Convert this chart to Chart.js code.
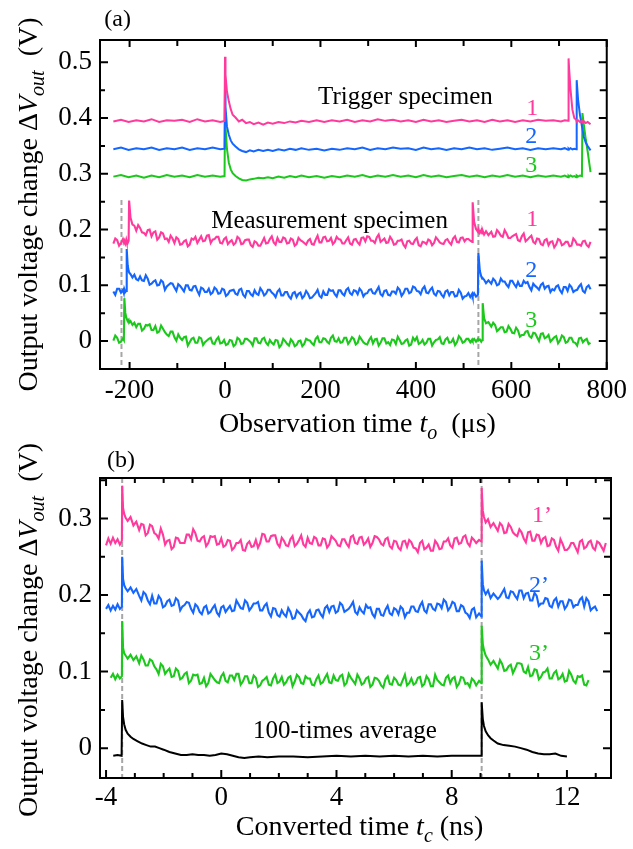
<!DOCTYPE html>
<html><head><meta charset="utf-8">
<script src="https://cdn.jsdelivr.net/npm/chart.js@4.4.1/dist/chart.umd.min.js"></script>
<style>
html,body{margin:0;padding:0;background:#fff;}
#wrap{position:relative;width:633px;height:849px;background:#fff;overflow:hidden;}
canvas{position:absolute;left:0;}
#ca{top:0;width:633px;height:450px;}
#cb{top:430px;width:633px;height:419px;}
</style></head>
<body><div id="wrap"><canvas id="ca" width="633" height="450"></canvas><canvas id="cb" width="633" height="419"></canvas></div>
<script>
// ---------------- Panel (a): observation time (µs) ----------------
const tTrig = [
 -234,-218,-202,-186,-170,-154,-138,-122,-106,-90,
 -74,-58,-42,-26,-10,-1,0,1,4,8,
 12,16,22,29,36,44,52,60,70,80,
 90,100,112,124,136,148,160,176,192,208,
 224,240,256,272,288,304,320,336,352,368,
 384,400,416,432,448,464,480,496,512,528,
 544,560,576,592,608,624,640,656,672,688,
 704,712,719,720,721,724,728,732,736,737,
 740,744,748,749,752,756,760,766];
const trig1 = [
 0.394,0.397,0.393,0.396,0.394,0.398,0.393,0.396,0.395,0.397,
 0.393,0.398,0.394,0.396,0.393,0.395,0.510,0.478,0.448,0.430,
 0.416,0.406,0.401,0.394,0.397,0.391,0.393,0.389,0.392,0.388,
 0.392,0.390,0.393,0.391,0.394,0.392,0.395,0.393,0.396,0.393,
 0.396,0.394,0.397,0.393,0.396,0.394,0.398,0.395,0.397,0.394,
 0.396,0.393,0.397,0.394,0.396,0.393,0.395,0.397,0.394,0.396,
 0.393,0.397,0.394,0.396,0.393,0.396,0.394,0.397,0.395,0.396,
 0.394,0.396,0.395,0.507,0.490,0.452,0.415,0.400,0.397,0.395,
 0.396,0.393,0.395,0.392,0.394,0.391,0.393,0.389];
const trig2 = [
 0.344,0.347,0.343,0.346,0.344,0.347,0.343,0.346,0.344,0.347,
 0.343,0.346,0.344,0.347,0.344,0.345,0.465,0.420,0.385,0.370,
 0.360,0.354,0.349,0.344,0.341,0.339,0.342,0.340,0.343,0.341,
 0.343,0.341,0.344,0.342,0.345,0.343,0.346,0.343,0.345,0.342,
 0.345,0.343,0.346,0.344,0.347,0.343,0.346,0.344,0.347,0.345,
 0.346,0.343,0.347,0.344,0.346,0.343,0.346,0.344,0.347,0.344,
 0.346,0.343,0.345,0.347,0.344,0.346,0.343,0.346,0.344,0.346,
 0.344,0.346,0.343,0.345,0.344,0.346,0.344,0.345,0.344,0.468,
 0.432,0.405,0.385,0.381,0.366,0.356,0.350,0.342];
const trig3 = [
 0.295,0.298,0.294,0.297,0.293,0.297,0.294,0.298,0.295,0.297,
 0.294,0.298,0.295,0.297,0.295,0.296,0.410,0.385,0.345,0.320,
 0.308,0.301,0.296,0.292,0.289,0.288,0.290,0.291,0.293,0.292,
 0.294,0.292,0.295,0.293,0.296,0.294,0.297,0.294,0.296,0.293,
 0.296,0.294,0.297,0.295,0.298,0.294,0.297,0.295,0.298,0.295,
 0.297,0.294,0.298,0.295,0.297,0.294,0.296,0.298,0.295,0.297,
 0.294,0.297,0.295,0.298,0.295,0.297,0.294,0.297,0.295,0.297,
 0.295,0.297,0.294,0.296,0.295,0.297,0.295,0.296,0.294,0.297,
 0.295,0.297,0.296,0.409,0.388,0.362,0.340,0.303];

// measurement specimen: main samples
const tMeas = [
 -234,-226,-218,-214,-212,-211,-209,-207,-206,-204,-202,-201,
 -198,-194,-190,-186,-178,-170,-162,-154,-146,-138,-130,-122,
 -114,-106,-98,-90,-82,-74,-66,-58,-50,-42,-34,-26,
 -18,-10,-2,6,14,22,30,38,46,54,62,70,
 78,86,94,102,110,118,126,134,142,150,158,166,
 174,182,190,198,206,214,222,230,238,246,254,262,
 270,278,286,294,302,310,318,326,334,342,350,358,
 366,374,382,390,398,406,414,422,430,438,446,454,
 462,470,478,486,494,502,510,514,518,519,522,526,
 530,531,534,537,539,540,543,547,552,558,566,574,
 582,590,598,606,614,622,630,638,646,654,662,670,
 678,686,694,702,710,718,726,734,742,750,758,766];
const meas1 = [
 0.175,0.181,0.176,0.183,0.177,0.180,0.175,0.182,0.178,0.176,0.180,0.252,
 0.221,0.209,0.207,0.198,0.203,0.194,0.199,0.188,0.197,0.186,0.193,0.184,
 0.189,0.176,0.183,0.174,0.181,0.173,0.182,0.176,0.188,0.180,0.190,0.182,
 0.187,0.176,0.183,0.174,0.181,0.176,0.184,0.175,0.182,0.172,0.179,0.171,
 0.178,0.175,0.183,0.177,0.185,0.178,0.184,0.176,0.182,0.174,0.181,0.176,
 0.180,0.174,0.182,0.177,0.186,0.179,0.185,0.178,0.183,0.175,0.181,0.175,
 0.182,0.177,0.185,0.179,0.187,0.180,0.186,0.178,0.184,0.177,0.182,0.174,
 0.180,0.173,0.179,0.175,0.181,0.172,0.178,0.174,0.180,0.176,0.182,0.175,
 0.181,0.177,0.184,0.178,0.185,0.179,0.183,0.180,0.178,0.249,0.214,0.201,
 0.196,0.201,0.194,0.199,0.193,0.198,0.191,0.197,0.190,0.196,0.188,0.195,
 0.187,0.193,0.185,0.190,0.181,0.188,0.179,0.186,0.178,0.184,0.174,0.181,
 0.172,0.179,0.173,0.181,0.174,0.178,0.171,0.180,0.173,0.179,0.172,0.178];
const meas2 = [
 0.089,0.094,0.087,0.092,0.086,0.093,0.088,0.090,0.165,0.136,0.126,0.123,
 0.120,0.114,0.119,0.111,0.116,0.108,0.112,0.103,0.109,0.101,0.106,0.098,
 0.104,0.096,0.102,0.094,0.100,0.092,0.098,0.090,0.096,0.088,0.094,0.087,
 0.093,0.086,0.092,0.084,0.091,0.085,0.092,0.083,0.090,0.084,0.091,0.083,
 0.090,0.085,0.092,0.084,0.089,0.082,0.088,0.080,0.086,0.079,0.087,0.081,
 0.085,0.078,0.086,0.081,0.089,0.083,0.090,0.084,0.091,0.085,0.092,0.086,
 0.091,0.084,0.090,0.085,0.092,0.086,0.091,0.084,0.090,0.083,0.089,0.085,
 0.092,0.086,0.094,0.088,0.096,0.089,0.094,0.087,0.092,0.085,0.090,0.083,
 0.089,0.082,0.088,0.081,0.087,0.080,0.086,0.079,0.085,0.081,0.086,0.080,
 0.083,0.158,0.126,0.116,0.112,0.113,0.110,0.104,0.109,0.103,0.108,0.102,
 0.107,0.101,0.108,0.102,0.106,0.099,0.104,0.097,0.103,0.096,0.101,0.094,
 0.099,0.093,0.098,0.091,0.097,0.090,0.097,0.091,0.098,0.090,0.097,0.093];
const meas3 = [
 0.001,0.006,-0.001,0.005,0.002,0.077,0.051,0.042,0.040,0.036,0.038,0.033,
 0.036,0.029,0.033,0.025,0.031,0.022,0.028,0.020,0.027,0.017,0.022,0.012,
 0.017,0.007,0.012,0.002,0.008,-0.002,0.006,-0.003,0.005,-0.002,0.004,-0.004,
 0.003,-0.004,0.002,-0.005,0.001,-0.006,0.003,-0.004,0.004,-0.002,0.005,-0.003,
 0.004,-0.003,0.002,-0.006,0.001,-0.007,0.000,-0.008,-0.001,-0.007,0.001,-0.005,
 0.002,-0.004,0.004,-0.002,0.005,-0.001,0.006,0.000,0.005,-0.002,0.006,0.000,
 0.004,-0.003,0.003,-0.005,0.002,-0.004,0.004,-0.003,0.005,-0.002,0.003,-0.005,
 0.002,-0.004,0.003,-0.006,0.001,-0.005,0.002,-0.003,0.004,-0.002,0.003,-0.004,
 0.003,-0.003,0.004,-0.002,0.005,-0.001,0.004,-0.002,0.003,0.001,0.004,-0.001,
 0.004,0.001,0.003,-0.001,0.002,0.068,0.041,0.032,0.034,0.026,0.029,0.021,
 0.025,0.017,0.022,0.014,0.019,0.011,0.017,0.009,0.015,0.007,0.013,0.005,
 0.011,0.003,0.009,0.001,0.007,-0.001,0.006,-0.003,0.005,-0.002,0.004,-0.003];

// measurement specimen: in-between samples
const tMeasMid = [
 -230,-222,-182,-174,-166,-158,-150,-142,-134,-126,-118,-110,
 -102,-94,-86,-78,-70,-62,-54,-46,-38,-30,-22,-14,
 -6,2,10,18,26,34,42,50,58,66,74,82,
 90,98,106,114,122,130,138,146,154,162,170,178,
 186,194,202,210,218,226,234,242,250,258,266,274,
 282,290,298,306,314,322,330,338,346,354,362,370,
 378,386,394,402,410,418,426,434,442,450,458,466,
 474,482,490,498,506,562,570,578,586,594,602,610,
 618,626,634,642,650,658,666,674,682,690,698,706,
 714,722,730,738,746,754,762];
const meas1Mid = [
 0.184,0.171,0.208,0.195,0.190,0.200,0.195,0.182,0.195,0.183,0.178,0.184,
 0.186,0.173,0.179,0.170,0.184,0.187,0.182,0.179,0.189,0.176,0.183,0.187,
 0.175,0.186,0.178,0.173,0.187,0.174,0.181,0.182,0.169,0.177,0.171,0.185,
 0.176,0.188,0.173,0.178,0.186,0.175,0.184,0.171,0.185,0.179,0.173,0.183,
 0.173,0.189,0.177,0.187,0.180,0.174,0.187,0.182,0.175,0.186,0.173,0.183,
 0.173,0.186,0.188,0.180,0.176,0.191,0.181,0.176,0.187,0.173,0.180,0.182,
 0.168,0.180,0.174,0.185,0.170,0.177,0.182,0.172,0.186,0.177,0.174,0.183,
 0.173,0.188,0.177,0.186,0.183,0.187,0.199,0.189,0.199,0.185,0.188,0.192,
 0.179,0.193,0.182,0.189,0.175,0.183,0.172,0.183,0.178,0.168,0.183,0.172,
 0.178,0.170,0.184,0.173,0.171,0.180,0.169];
const meas2Mid = [
 0.083,0.094,0.109,0.109,0.118,0.101,0.107,0.100,0.109,0.092,0.101,0.103,
 0.090,0.099,0.089,0.100,0.091,0.099,0.083,0.094,0.088,0.084,0.096,0.085,
 0.094,0.081,0.090,0.092,0.083,0.094,0.079,0.090,0.081,0.085,0.095,0.082,
 0.092,0.087,0.079,0.093,0.082,0.088,0.076,0.088,0.085,0.077,0.090,0.077,
 0.082,0.092,0.078,0.083,0.093,0.091,0.080,0.091,0.082,0.095,0.083,0.090,
 0.094,0.080,0.086,0.093,0.085,0.097,0.081,0.091,0.082,0.089,0.096,0.081,
 0.094,0.086,0.098,0.090,0.084,0.098,0.086,0.096,0.082,0.089,0.079,0.091,
 0.088,0.080,0.092,0.076,0.081,0.112,0.100,0.112,0.107,0.097,0.108,0.097,
 0.099,0.108,0.106,0.091,0.099,0.092,0.104,0.098,0.088,0.091,0.100,0.086,
 0.097,0.101,0.088,0.092,0.102,0.087,0.100];
const meas3Mid = [
 0.010,-0.003,0.031,0.019,0.029,0.030,0.020,0.015,0.028,0.016,0.009,0.017,
 0.001,0.006,0.007,-0.008,0.004,-0.003,0.007,-0.007,0.001,0.006,-0.005,0.007,
 -0.003,-0.007,0.002,-0.009,0.006,-0.005,0.004,0.001,-0.008,0.005,-0.004,0.006,
 -0.007,-0.003,0.002,-0.011,0.004,-0.005,0.003,-0.009,0.000,-0.009,0.004,0.001,
 -0.007,0.008,-0.002,0.004,-0.004,0.010,-0.001,-0.003,0.006,-0.005,0.007,-0.006,
 0.008,-0.002,-0.006,0.007,0.003,-0.008,0.005,-0.004,-0.007,0.002,0.008,-0.005,
 0.001,-0.008,0.006,0.007,-0.003,-0.006,0.004,-0.008,0.002,0.007,-0.005,0.006,
 -0.002,-0.007,0.009,-0.003,0.004,0.033,0.018,0.025,0.016,0.027,0.015,0.024,
 0.008,0.011,0.018,0.006,0.014,0.000,0.014,0.007,-0.001,0.007,-0.004,0.010,
 -0.003,0.006,-0.002,-0.008,0.006,0.002,-0.005];

const dashXA = [-217, 531];
const dashYA = [0.253, -0.046];

const xTicksA = [-200, 0, 200, 400, 600, 800];
const xTickLabelsA = ['-200', '0', '200', '400', '600', '800'];
const xMinorA = [-100, 100, 300, 500, 700];
const yTicksA = [0, 0.1, 0.2, 0.3, 0.4, 0.5];
const yTickLabelsA = ['0', '0.1', '0.2', '0.3', '0.4', '0.5'];
const yMinorA = [0.05, 0.15, 0.25, 0.35, 0.45];

// ---------------- Panel (b): converted time (ns) ----------------
const tConv = [
 -4,-3.92,-3.84,-3.76,-3.68,-3.6,-3.52,-3.45,-3.44,-3.41,
 -3.37,-3.32,-3.25,-3.15,-3.05,-2.95,-2.85,-2.7,-2.55,-2.4,
 -2.25,-2.1,-1.95,-1.8,-1.65,-1.5,-1.35,-1.2,-1.05,-0.9,
 -0.75,-0.6,-0.45,-0.3,-0.15,0,0.15,0.3,0.45,0.6,
 0.75,0.9,1.05,1.2,1.35,1.5,1.65,1.8,1.95,2.1,
 2.25,2.4,2.55,2.7,2.85,3,3.15,3.3,3.45,3.6,
 3.75,3.9,4.05,4.2,4.35,4.5,4.65,4.8,4.95,5.1,
 5.25,5.4,5.55,5.7,5.85,6,6.15,6.3,6.45,6.6,
 6.75,6.9,7.05,7.2,7.35,7.5,7.65,7.8,7.95,8.1,
 8.25,8.4,8.55,8.7,8.85,8.95,9.03,9.04,9.08,9.12,
 9.18,9.26,9.35,9.45,9.6,9.75,9.9,10.05,10.2,10.35,
 10.5,10.65,10.8,10.95,11.1,11.25,11.4,11.55,11.7,11.85,
 12,12.15,12.3,12.45,12.6,12.75,12.9,13.05,13.2,13.35];
const conv1 = [
 0.265,0.274,0.267,0.275,0.268,0.273,0.266,0.271,0.343,0.314,
 0.306,0.301,0.297,0.302,0.291,0.296,0.285,0.292,0.281,0.290,
 0.279,0.287,0.266,0.272,0.263,0.274,0.268,0.279,0.273,0.281,
 0.270,0.277,0.268,0.276,0.266,0.274,0.265,0.271,0.262,0.268,
 0.259,0.267,0.263,0.272,0.268,0.279,0.270,0.278,0.267,0.275,
 0.265,0.273,0.264,0.272,0.266,0.275,0.267,0.274,0.265,0.273,
 0.266,0.274,0.265,0.273,0.267,0.276,0.268,0.275,0.266,0.274,
 0.268,0.276,0.267,0.273,0.264,0.271,0.262,0.270,0.263,0.269,
 0.261,0.268,0.260,0.266,0.258,0.267,0.261,0.270,0.265,0.274,
 0.267,0.276,0.268,0.275,0.268,0.272,0.270,0.340,0.310,0.302,
 0.295,0.299,0.289,0.294,0.284,0.291,0.282,0.289,0.279,0.286,
 0.274,0.282,0.271,0.279,0.268,0.276,0.265,0.272,0.258,0.267,
 0.259,0.268,0.262,0.270,0.261,0.269,0.262,0.270,0.263,0.268];
const conv2 = [
 0.182,0.187,0.180,0.186,0.181,0.188,0.182,0.185,0.250,0.221,
 0.213,0.209,0.205,0.210,0.203,0.208,0.199,0.204,0.193,0.199,
 0.189,0.195,0.186,0.194,0.187,0.193,0.185,0.191,0.182,0.188,
 0.178,0.184,0.176,0.183,0.177,0.184,0.178,0.186,0.180,0.188,
 0.182,0.190,0.184,0.189,0.180,0.186,0.177,0.183,0.174,0.180,
 0.172,0.178,0.170,0.177,0.169,0.176,0.171,0.180,0.175,0.183,
 0.178,0.186,0.179,0.187,0.180,0.186,0.178,0.184,0.176,0.183,
 0.175,0.182,0.174,0.181,0.176,0.183,0.175,0.182,0.177,0.185,
 0.179,0.186,0.180,0.188,0.182,0.189,0.183,0.191,0.184,0.189,
 0.179,0.185,0.175,0.181,0.171,0.176,0.172,0.245,0.214,0.206,
 0.201,0.206,0.196,0.202,0.195,0.203,0.197,0.205,0.199,0.206,
 0.196,0.203,0.193,0.199,0.189,0.196,0.186,0.193,0.185,0.192,
 0.186,0.193,0.187,0.194,0.185,0.192,0.183,0.179,null,null];
const conv3 = [
 null,null,0.092,0.097,0.090,0.096,0.091,0.094,0.166,0.131,
 0.124,0.121,0.117,0.122,0.115,0.120,0.111,0.116,0.108,0.114,
 0.103,0.110,0.097,0.104,0.094,0.101,0.092,0.099,0.088,0.095,
 0.084,0.092,0.085,0.093,0.086,0.094,0.088,0.095,0.089,0.097,
 0.087,0.094,0.085,0.092,0.082,0.090,0.083,0.091,0.085,0.093,
 0.086,0.094,0.087,0.093,0.084,0.091,0.083,0.090,0.084,0.092,
 0.086,0.095,0.088,0.096,0.085,0.092,0.084,0.091,0.085,0.093,
 0.083,0.091,0.082,0.090,0.084,0.092,0.083,0.089,0.082,0.091,
 0.085,0.093,0.084,0.090,0.081,0.089,0.083,0.092,0.085,0.093,
 0.084,0.092,0.085,0.091,0.082,0.088,0.085,0.160,0.136,0.128,
 0.121,0.116,0.109,0.114,0.104,0.110,0.102,0.109,0.104,0.111,
 0.100,0.106,0.095,0.102,0.093,0.100,0.091,0.098,0.090,0.097,
 0.088,0.096,0.085,0.093,0.083,0.089,null,null,null,null];

// converted traces: in-between samples
const tConvMid = [
 -2.775,-2.625,-2.475,-2.325,-2.175,-2.025,-1.875,-1.725,-1.575,-1.425,
 -1.275,-1.125,-0.975,-0.825,-0.675,-0.525,-0.375,-0.225,-0.075,0.075,
 0.225,0.375,0.525,0.675,0.825,0.975,1.125,1.275,1.425,1.575,
 1.725,1.875,2.025,2.175,2.325,2.475,2.625,2.775,2.925,3.075,
 3.225,3.375,3.525,3.675,3.825,3.975,4.125,4.275,4.425,4.575,
 4.725,4.875,5.025,5.175,5.325,5.475,5.625,5.775,5.925,6.075,
 6.225,6.375,6.525,6.675,6.825,6.975,7.125,7.275,7.425,7.575,
 7.725,7.875,8.025,8.175,8.325,8.475,8.625,8.775,9.675,9.825,
 9.975,10.125,10.275,10.425,10.575,10.725,10.875,11.025,11.175,11.325,
 11.475,11.625,11.775,11.925,12.075,12.225,12.375,12.525,12.675,12.825,
 12.975,13.125,13.275];
const conv1Mid = [
 0.293,0.278,0.292,0.281,0.274,0.279,0.271,0.260,0.275,0.268,
 0.268,0.279,0.286,0.271,0.275,0.264,0.277,0.277,0.267,0.263,
 0.272,0.259,0.268,0.272,0.258,0.270,0.264,0.262,0.280,0.270,
 0.277,0.278,0.263,0.271,0.264,0.277,0.267,0.278,0.263,0.268,
 0.276,0.265,0.274,0.262,0.277,0.271,0.264,0.273,0.263,0.278,
 0.267,0.276,0.269,0.263,0.277,0.273,0.265,0.275,0.261,0.270,
 0.259,0.271,0.272,0.262,0.256,0.271,0.262,0.258,0.271,0.260,
 0.270,0.274,0.262,0.275,0.268,0.278,0.264,0.272,0.294,0.281,
 0.293,0.282,0.277,0.282,0.269,0.283,0.271,0.278,0.274,0.264,
 0.274,0.263,0.273,0.259,0.262,0.268,0.256,0.272,0.263,0.271,
 0.259,0.268,0.258];
const conv2Mid = [
 0.193,0.201,0.188,0.189,0.199,0.184,0.192,0.186,0.196,0.180,
 0.187,0.190,0.177,0.185,0.175,0.186,0.178,0.187,0.173,0.186,
 0.182,0.179,0.193,0.183,0.193,0.180,0.189,0.191,0.180,0.189,
 0.172,0.182,0.172,0.175,0.183,0.169,0.180,0.174,0.166,0.180,
 0.172,0.181,0.171,0.186,0.185,0.177,0.190,0.178,0.182,0.191,
 0.175,0.179,0.187,0.184,0.171,0.182,0.173,0.186,0.174,0.181,
 0.185,0.171,0.177,0.185,0.178,0.191,0.177,0.188,0.180,0.188,
 0.194,0.180,0.191,0.179,0.187,0.177,0.170,0.183,0.198,0.208,
 0.196,0.204,0.195,0.206,0.202,0.193,0.203,0.186,0.189,0.195,
 0.184,0.196,0.192,0.182,0.194,0.184,0.187,0.197,0.196,0.180,
 0.185,null,null];
const conv3Mid = [
 0.121,0.108,0.116,0.107,0.097,0.107,0.101,0.093,0.104,0.090,
 0.097,0.085,0.096,0.096,0.085,0.081,0.097,0.089,0.085,0.098,
 0.086,0.095,0.097,0.083,0.094,0.085,0.095,0.080,0.088,0.093,
 0.082,0.096,0.087,0.083,0.092,0.081,0.096,0.085,0.094,0.091,
 0.082,0.095,0.086,0.097,0.085,0.089,0.094,0.082,0.097,0.088,
 0.096,0.083,0.091,0.080,0.092,0.088,0.079,0.094,0.083,0.089,
 0.082,0.096,0.085,0.083,0.092,0.081,0.094,0.081,0.096,0.086,
 0.082,0.095,0.091,0.080,0.093,0.084,0.080,0.088,0.115,0.101,
 0.107,0.098,0.111,0.110,0.098,0.094,0.103,0.090,0.099,0.104,
 0.091,0.101,0.092,0.087,0.101,0.088,0.094,0.095,0.082,null,
 null,null,null];

const tAvg = [
 -3.75,-3.6,-3.46,-3.45,-3.44,-3.41,-3.37,-3.32,-3.25,-3.15,
 -3.05,-2.9,-2.75,-2.6,-2.45,-2.3,-2.15,-2.0,-1.8,-1.6,
 -1.4,-1.2,-1.0,-0.8,-0.6,-0.4,-0.2,0,0.2,0.4,
 0.6,0.8,1.0,1.3,1.6,2.0,2.5,3,3.5,4,
 4.5,5,5.5,6,6.5,7,7.5,8,8.5,8.9,
 9.03,9.04,9.08,9.12,9.18,9.26,9.35,9.45,9.6,9.8,
 10,10.2,10.4,10.6,10.8,11,11.2,11.4,11.6,11.8,
 12];
const avg100 = [
 -0.010,-0.009,-0.010,-0.010,0.063,0.041,0.031,0.024,0.019,0.015,
 0.012,0.009,0.006,0.004,0.002,0.002,0.000,-0.002,-0.005,-0.007,
 -0.009,-0.009,-0.008,-0.009,-0.009,-0.010,-0.009,-0.007,-0.008,-0.010,
 -0.012,-0.013,-0.012,-0.011,-0.012,-0.011,-0.011,-0.012,-0.011,-0.010,
 -0.011,-0.010,-0.011,-0.010,-0.011,-0.010,-0.011,-0.010,-0.010,-0.010,
 -0.010,0.060,0.038,0.029,0.022,0.017,0.013,0.010,0.006,0.004,
 0.003,0.002,0.000,-0.002,-0.005,-0.007,-0.008,-0.008,-0.007,-0.010,
 -0.011];

const dashXB = [-3.44, 9.04];

const xTicksB = [-4, 0, 4, 8, 12];
const xTickLabelsB = ['-4', '0', '4', '8', '12'];
const xMinorB = [-3, -2, -1, 1, 2, 3, 5, 6, 7, 9, 10, 11, 13];
const yTicksB = [0, 0.1, 0.2, 0.3];
const yTickLabelsB = ['0', '0.1', '0.2', '0.3'];
const yMinorB = [0.05, 0.15, 0.25, 0.35];

// ---------------- Text ----------------
const yTitle = [{t:'Output voltage change '},{t:'\u0394'},{t:'V',it:1},{t:'out',it:1,sub:1},{t:'  (V)'}];
const xTitleA = [{t:'Observation time '},{t:'t',it:1},{t:'o',it:1,sub:1},{t:'  (\u03bcs)'}];
const xTitleB = [{t:'Converted time '},{t:'t',it:1},{t:'c',it:1,sub:1},{t:' (ns)'}];

const PINK = '#ff3a9c', BLUE = '#1466ff', GREEN = '#1cc81c', BLACK = '#000000', DASH = '#a6a6a6';
const FONT = '"Liberation Serif", "Times New Roman", serif';

const notesA = [
  {t:'(a)', x:-225, y:0.565, c:BLACK, s:24, a:'center'},
  {t:'Trigger specimen', x:195, y:0.425, c:BLACK, s:25, a:'left'},
  {t:'Measurement specimen', x:-29, y:0.203, c:BLACK, s:25, a:'left'},
  {t:'1', x:644, y:0.405, c:PINK, s:24, a:'center'},
  {t:'2', x:642, y:0.355, c:BLUE, s:24, a:'center'},
  {t:'3', x:642, y:0.303, c:GREEN, s:24, a:'center'},
  {t:'1', x:644, y:0.206, c:PINK, s:24, a:'center'},
  {t:'2', x:642, y:0.115, c:BLUE, s:24, a:'center'},
  {t:'3', x:642, y:0.025, c:GREEN, s:24, a:'center'}
];
const notesB = [
  {t:'(b)', x:-3.48, y:0.367, c:BLACK, s:24, a:'center'},
  {t:'1\u2019', x:10.79, y:0.2955, c:PINK, s:24, a:'left'},
  {t:'2\u2019', x:10.68, y:0.204, c:BLUE, s:24, a:'left'},
  {t:'3\u2019', x:10.68, y:0.115, c:GREEN, s:24, a:'left'},
  {t:'100-times average', x:1.10, y:0.0133, c:BLACK, s:25, a:'left'}
];

// ---------------- helpers ----------------
function series(xs, ys){ return xs.map((x,i)=>({x:x, y:(ys[i]===undefined?null:ys[i])})); }
function merged(xa, ya, xb, yb){ const p = series(xa, ya).concat(series(xb, yb)); p.sort((u,v)=>u.x-v.x); return p; }
function dashSeries(x, y0, y1){ return [{x:x,y:y0},{x:x,y:y1}]; }

function drawRich(ctx, segs, x, y, size, rotate){
  ctx.save();
  ctx.translate(x, y);
  if (rotate) ctx.rotate(-Math.PI/2);
  const f = s => (s.it ? 'italic ' : '') + (s.sub ? Math.round(size*0.72) : size) + 'px ' + FONT;
  let w = 0;
  const ws = segs.map(s => { ctx.font = f(s); const m = ctx.measureText(s.t).width; w += m; return m; });
  let cx = -w/2;
  ctx.textAlign = 'left'; ctx.textBaseline = 'alphabetic'; ctx.fillStyle = '#000';
  segs.forEach((s,i) => { ctx.font = f(s); ctx.fillText(s.t, cx, s.sub ? size*0.24 : 0); cx += ws[i]; });
  ctx.restore();
}

function makeDecor(cfg){
  return {
    id: 'decor',
    afterDraw(chart){
      const ctx = chart.ctx, a = chart.chartArea, xs = chart.scales.x, ys = chart.scales.y;
      ctx.save();
      ctx.strokeStyle = '#000'; ctx.lineWidth = 2; ctx.lineCap = 'butt';
      ctx.beginPath();
      cfg.xMajor.forEach(v => { const p = xs.getPixelForValue(v);
        ctx.moveTo(p, a.bottom); ctx.lineTo(p, a.bottom - cfg.xMajLen);
        ctx.moveTo(p, a.top); ctx.lineTo(p, a.top + cfg.xMajLen); });
      cfg.xMinor.forEach(v => { const p = xs.getPixelForValue(v);
        ctx.moveTo(p, a.bottom); ctx.lineTo(p, a.bottom - cfg.xMinLen);
        ctx.moveTo(p, a.top); ctx.lineTo(p, a.top + cfg.xMinLen); });
      cfg.yMajor.forEach(v => { const p = ys.getPixelForValue(v);
        ctx.moveTo(a.left, p); ctx.lineTo(a.left + 8, p);
        ctx.moveTo(a.right, p); ctx.lineTo(a.right - 8, p); });
      cfg.yMinor.forEach(v => { const p = ys.getPixelForValue(v);
        ctx.moveTo(a.left, p); ctx.lineTo(a.left + 5, p);
        ctx.moveTo(a.right, p); ctx.lineTo(a.right - 7, p); });
      ctx.stroke();
      ctx.strokeRect(a.left, a.top, a.right - a.left, a.bottom - a.top);
      cfg.notes.forEach(n => {
        ctx.font = n.s + 'px ' + FONT; ctx.fillStyle = n.c;
        ctx.textAlign = n.a; ctx.textBaseline = 'alphabetic';
        ctx.fillText(n.t, xs.getPixelForValue(n.x), ys.getPixelForValue(n.y));
      });
      ctx.restore();
      drawRich(ctx, yTitle, a.left - 63, (a.top + a.bottom)/2 + cfg.yTitleShift, 28, true);
      drawRich(ctx, cfg.xTitle, (a.left + a.right)/2 + 4, a.bottom + cfg.xTitleGap, 28, false);
    }
  };
}

function lineDs(data, color, w){
  return {data: data, borderColor: color, borderWidth: w || 2.1, pointRadius: 0, fill: false, tension: 0, order: 0, spanGaps: false};
}
function dashDs(data){
  return {data: data, borderColor: DASH, borderWidth: 2, borderDash: [5,3], pointRadius: 0, fill: false, order: 10};
}

function baseOptions(p){
  return {
    responsive: false, animation: false, devicePixelRatio: 1, events: [],
    layout: {padding: {left: 0, right: 22, top: p.top, bottom: 0}},
    plugins: {legend: {display: false}, tooltip: {enabled: false}, title: {display: false}},
    scales: {
      x: {type: 'linear', min: p.xmin, max: p.xmax, grid: {display: false, drawTicks: false}, border: {display: false},
          afterFit: s => { s.height = p.xH; },
          afterBuildTicks: s => { s.ticks = p.xT.map(v => ({value: v})); },
          ticks: {autoSkip: false, maxRotation: 0, color: '#000', padding: p.xPad,
                  font: {family: FONT, size: 27},
                  callback: (v, i) => p.xL[i]}},
      y: {type: 'linear', min: p.ymin, max: p.ymax, grid: {display: false, drawTicks: false}, border: {display: false},
          afterFit: s => { s.width = 100; },
          afterBuildTicks: s => { s.ticks = p.yT.map(v => ({value: v})); },
          ticks: {autoSkip: false, color: '#000', padding: 8,
                  font: {family: FONT, size: 27},
                  callback: (v, i) => p.yL[i]}}
    }
  };
}

Chart.defaults.font.family = FONT;

new Chart(document.getElementById('ca'), {
  type: 'line',
  data: {datasets: [
    lineDs(series(tTrig, trig1), PINK, 2), lineDs(series(tTrig, trig2), BLUE, 2), lineDs(series(tTrig, trig3), GREEN, 2),
    lineDs(merged(tMeas, meas1, tMeasMid, meas1Mid), PINK), lineDs(merged(tMeas, meas2, tMeasMid, meas2Mid), BLUE),
    lineDs(merged(tMeas, meas3, tMeasMid, meas3Mid), GREEN),
    dashDs(dashSeries(dashXA[0], dashYA[0], dashYA[1])), dashDs(dashSeries(dashXA[1], dashYA[0], dashYA[1]))
  ]},
  options: baseOptions({top: 40, xH: 81, xmin: -262, xmax: 800, ymin: -0.05, ymax: 0.54,
    xT: xTicksA, xL: xTickLabelsA, yT: yTicksA, yL: yTickLabelsA, xPad: 6}),
  plugins: [makeDecor({xMajor: xTicksA, xMinor: xMinorA, yMajor: yTicksA, yMinor: yMinorA, xMajLen: 7, xMinLen: 6,
    notes: notesA, xTitle: xTitleA, xTitleGap: 63, yTitleShift: 0})]
});

new Chart(document.getElementById('cb'), {
  type: 'line',
  data: {datasets: [
    lineDs(merged(tConv, conv1, tConvMid, conv1Mid), PINK), lineDs(merged(tConv, conv2, tConvMid, conv2Mid), BLUE),
    lineDs(merged(tConv, conv3, tConvMid, conv3Mid), GREEN),
    lineDs(series(tAvg, avg100), BLACK, 2),
    dashDs(dashSeries(dashXB[0], 0.353, -0.039)), dashDs(dashSeries(dashXB[1], 0.353, -0.039))
  ]},
  options: baseOptions({top: 48, xH: 71, xmin: -4.21, xmax: 13.53, ymin: -0.039, ymax: 0.353,
    xT: xTicksB, xL: xTickLabelsB, yT: yTicksB, yL: yTickLabelsB, xPad: 4}),
  plugins: [makeDecor({xMajor: xTicksB, xMinor: xMinorB, yMajor: yTicksB, yMinor: yMinorB, xMajLen: 8, xMinLen: 5,
    notes: notesB, xTitle: xTitleB, xTitleGap: 57, yTitleShift: 2})]
});
</script>
</body></html>
